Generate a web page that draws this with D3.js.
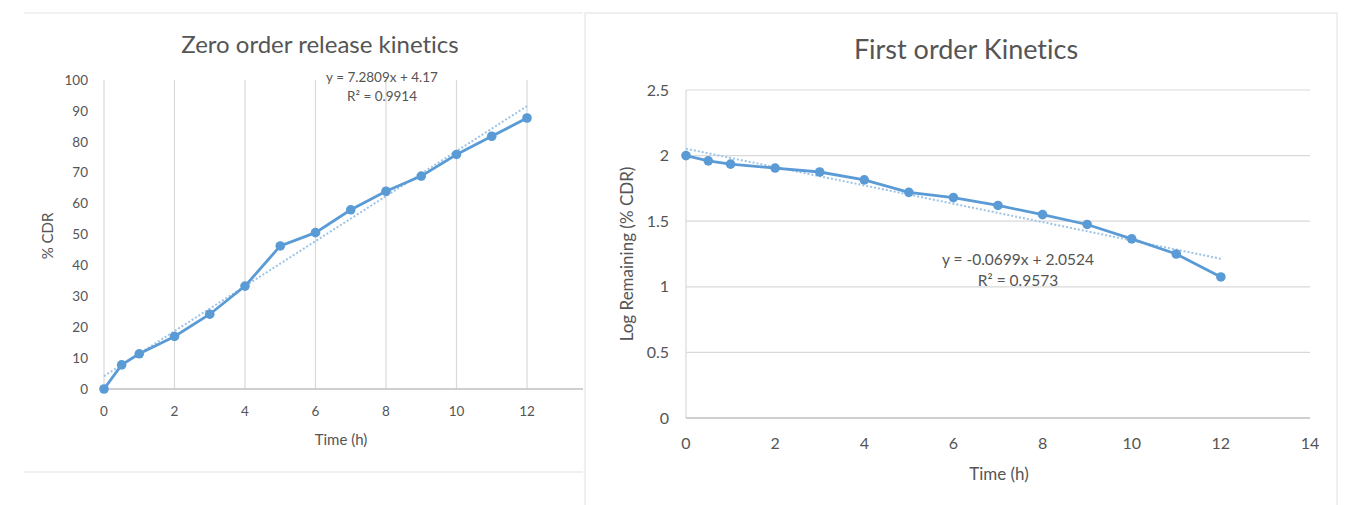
<!DOCTYPE html>
<html><head><meta charset="utf-8">
<script src="https://cdn.jsdelivr.net/npm/d3@7"></script>
<style>body{margin:0;background:#fff}svg{display:block}text{font-family:Lato,"Open Sans",sans-serif;fill:#555;font-variant-ligatures:none;font-feature-settings:"liga" 0}</style>
</head><body><svg id="c" width="1348" height="505"></svg>
<script>
// ---- data ----
const timeH = [0,0.5,1,2,3,4,5,6,7,8,9,10,11,12];
const zeroCDR = [0,7.8,11.4,17,24.2,33.3,46.3,50.6,58,64,68.9,75.9,81.8,87.7];
const firstLogRem = [2.0,1.96,1.935,1.905,1.875,1.815,1.72,1.68,1.62,1.55,1.475,1.365,1.25,1.075];
const zeroTrend = {slope:7.2809, intercept:4.17};
const firstTrend = {slope:-0.0699, intercept:2.0524};
const xTicks = [0,2,4,6,8,10,12,14];
const zeroYTicks = [0,10,20,30,40,50,60,70,80,90,100];
const firstYTicks = [0,0.5,1,1.5,2,2.5];
const zeroLabels = ["y = 7.2809x + 4.17","R\u00b2 = 0.9914"];
const firstLabels = ["y = -0.0699x + 2.0524","R\u00b2 = 0.9573"];

const svg = d3.select("#c");
const blue = "#5B9BD5", trendC = "#9DC3E6", grid = "#d9d9d9", axisC = "#bfbfbf";

function chart(g, o){
  const x = d3.scaleLinear().domain([0,14]).range(o.xr);
  const y = d3.scaleLinear().domain(o.yd).range(o.yr);
  if(o.vgrid){
    g.selectAll(".vg").data(xTicks).join("line")
      .attr("x1",d=>x(d)).attr("x2",d=>x(d)).attr("y1",o.yr[0]).attr("y2",o.yr[1])
      .attr("stroke",grid).attr("stroke-width",1.2);
  } else {
    g.selectAll(".hg").data(o.yTicks.filter(d=>d>0)).join("line")
      .attr("x1",o.xr[0]).attr("x2",o.xr[1]).attr("y1",d=>y(d)).attr("y2",d=>y(d))
      .attr("stroke",grid).attr("stroke-width",1.2);
    g.append("line").attr("x1",o.xr[0]).attr("x2",o.xr[0]).attr("y1",o.yr[0]).attr("y2",o.yr[1])
      .attr("stroke",grid).attr("stroke-width",1.2);
  }
  g.append("line").attr("x1",o.xr[0]).attr("x2",o.xr[1]).attr("y1",o.yr[0]).attr("y2",o.yr[0])
    .attr("stroke",axisC).attr("stroke-width",1.5);
  g.selectAll(".xl").data(o.xTickShow).join("text")
    .attr("x",d=>x(d)).attr("y",o.yr[0]+o.xlOff).attr("text-anchor","middle")
    .attr("font-size",o.tfs).text(d=>d);
  g.selectAll(".yl").data(o.yTicks).join("text")
    .attr("x",o.xr[0]-o.ylOff).attr("y",d=>y(d)+o.tfs*0.35).attr("text-anchor","end")
    .attr("font-size",o.tfs).text(d=>d);
  const tl = d3.line().x(d=>x(d)).y(d=>y(o.trend.intercept+o.trend.slope*d));
  g.append("path").attr("d",tl([0,12])).attr("fill","none").attr("stroke",trendC)
    .attr("stroke-width",2).attr("stroke-dasharray","2,2");
  const ln = d3.line().x((d,i)=>x(timeH[i])).y(d=>y(d));
  g.append("path").attr("d",ln(o.vals)).attr("fill","none").attr("stroke",blue).attr("stroke-width",2.8);
  g.selectAll(".pt").data(o.vals).join("circle")
    .attr("cx",(d,i)=>x(timeH[i])).attr("cy",d=>y(d)).attr("r",4.8).attr("fill",blue);
  g.append("text").attr("x",o.titleX).attr("y",o.titleY).attr("text-anchor","middle")
    .attr("font-size",o.titleFs).text(o.title);
  g.append("text").attr("x",o.xtX).attr("y",o.xtY).attr("text-anchor","middle")
    .attr("font-size",o.afs).text("Time (h)");
  g.append("text").attr("transform",`translate(${o.ytX},${o.ytY}) rotate(-90)`)
    .attr("text-anchor","middle").attr("font-size",o.yafs).text(o.ytitle);
  o.labels.forEach((t,i)=>g.append("text").attr("x",o.lx).attr("y",o.ly+i*o.lgap)
    .attr("text-anchor","middle").attr("font-size",o.lfs).text(t));
}

// left panel
svg.append("clipPath").attr("id","lc").append("rect").attr("x",0).attr("y",0).attr("width",583).attr("height",505);
const L = svg.append("g").attr("clip-path","url(#lc)");
L.append("line").attr("x1",24).attr("x2",583).attr("y1",13).attr("y2",13).attr("stroke","#e3e3e3");
L.append("line").attr("x1",24).attr("x2",583).attr("y1",472).attr("y2",472).attr("stroke","#e3e3e3");
chart(L,{xr:[104,597.5],yd:[0,100],yr:[389,80],vgrid:true,yTicks:zeroYTicks,xTickShow:[0,2,4,6,8,10,12],
  tfs:13.5,xlOff:27,ylOff:16,trend:zeroTrend,vals:zeroCDR,title:"Zero order release kinetics",titleX:320,titleY:53,titleFs:24,
  xtX:341,xtY:445,afs:15,yafs:15,ytitle:"% CDR",ytX:53,ytY:236,labels:zeroLabels,lx:382,ly:82,lgap:19,lfs:13.5});

// right panel
const R = svg.append("g");
R.append("rect").attr("x",585).attr("y",13).attr("width",752).attr("height",500).attr("fill","#fff").attr("stroke","#e0e0e0");
chart(R,{xr:[686,1310],yd:[0,2.5],yr:[418,90],vgrid:false,yTicks:firstYTicks,xTickShow:xTicks,
  tfs:16,xlOff:31,ylOff:17,trend:firstTrend,vals:firstLogRem,title:"First order Kinetics",titleX:966,titleY:59,titleFs:27,
  xtX:999,xtY:480,afs:17,yafs:17,ytitle:"Log Remaining (% CDR)",ytX:633,ytY:254,labels:firstLabels,lx:1018,ly:265,lgap:21,lfs:15.5});
</script></body></html>
